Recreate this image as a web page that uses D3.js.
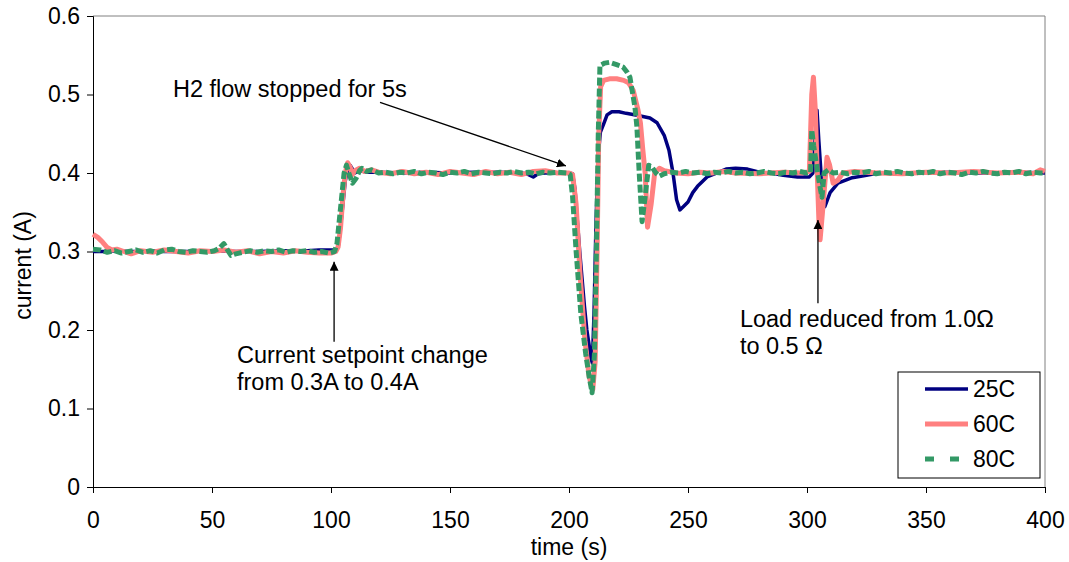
<!DOCTYPE html>
<html>
<head>
<meta charset="utf-8">
<script src="https://cdn.jsdelivr.net/npm/d3@7"></script>
<style>
  body { margin: 0; background: #fff; }
  svg text { font-family: Arial, "Liberation Sans", sans-serif; fill: #000; }
</style>
</head>
<body>
<div id="chart"></div>
<script>
// data: [time (s), current (A)]
var s25 = [[0,0.300],[5,0.300],[10,0.301],[15,0.300],[20,0.300],[25,0.301],[30,0.300],[40,0.300],[50,0.301],[60,0.300],[70,0.300],[80,0.301],[90,0.301],[95,0.302],[100,0.302],[102,0.302],[103,0.305],[104,0.33],[105,0.36],[106,0.39],[107,0.405],[108,0.41],[110,0.40],[112,0.403],[115,0.401],[120,0.401],[130,0.400],[140,0.401],[150,0.400],[160,0.401],[170,0.401],[180,0.400],[183,0.398],[185,0.395],[187,0.399],[190,0.400],[195,0.400],[200,0.400],[201.5,0.399],[202.5,0.38],[203.5,0.34],[204.5,0.30],[205.5,0.265],[206.5,0.23],[207.5,0.20],[208.5,0.18],[209.2,0.165],[209.8,0.158],[210.5,0.22],[211.3,0.33],[212.2,0.42],[213.2,0.452],[214.5,0.462],[216,0.474],[218,0.478],[221,0.478],[224,0.476],[228,0.474],[231,0.472],[234,0.470],[237,0.464],[240,0.448],[242,0.429],[243.7,0.40],[245.2,0.366],[246.6,0.353],[248,0.357],[250,0.363],[252,0.375],[254,0.383],[258,0.395],[263,0.401],[266,0.405],[270,0.406],[275,0.405],[280,0.401],[285,0.400],[290,0.397],[296,0.395],[301,0.395],[302.5,0.40],[303.5,0.45],[304.2,0.48],[305,0.44],[306,0.395],[307.5,0.357],[309.7,0.375],[313,0.387],[319,0.394],[325,0.397],[330,0.400],[340,0.400],[350,0.400],[360,0.401],[370,0.400],[380,0.400],[390,0.401],[400,0.400]];

var s60 = [[0,0.322],[2,0.318],[4,0.312],[6,0.305],[8,0.302],[10,0.303],[13,0.300],[16,0.297],[20,0.301],[25,0.299],[30,0.302],[35,0.300],[40,0.298],[45,0.301],[50,0.300],[55,0.302],[60,0.299],[65,0.301],[70,0.297],[75,0.300],[80,0.298],[85,0.301],[90,0.299],[95,0.298],[100,0.298],[102,0.300],[103,0.306],[104,0.33],[105,0.37],[106,0.40],[107,0.413],[108,0.408],[109,0.398],[110,0.403],[112,0.406],[114,0.402],[117,0.404],[120,0.401],[125,0.399],[130,0.402],[135,0.399],[140,0.401],[145,0.398],[150,0.402],[155,0.400],[160,0.398],[165,0.402],[170,0.399],[175,0.401],[180,0.398],[185,0.402],[190,0.403],[195,0.400],[200,0.400],[201.5,0.398],[203,0.36],[204.6,0.273],[206.7,0.187],[208.5,0.14],[210,0.124],[211,0.16],[211.8,0.30],[212.5,0.45],[213.3,0.51],[214.5,0.518],[217,0.520],[220,0.520],[223,0.518],[225,0.515],[227,0.505],[229,0.48],[230,0.464],[231,0.43],[232,0.40],[233,0.331],[234.5,0.36],[236,0.40],[238,0.406],[240,0.403],[245,0.400],[250,0.399],[255,0.401],[260,0.400],[265,0.402],[270,0.400],[280,0.399],[290,0.401],[298,0.400],[301,0.402],[302,0.50],[302.7,0.522],[303.5,0.48],[304.3,0.40],[305,0.34],[305.5,0.315],[306.5,0.35],[308.4,0.42],[309.5,0.41],[311,0.387],[313,0.391],[315,0.400],[320,0.402],[330,0.400],[340,0.399],[350,0.401],[360,0.400],[370,0.402],[380,0.400],[390,0.401],[395,0.399],[398,0.404],[400,0.402]];

var s80 = [[0,0.303],[3,0.302],[6,0.299],[9,0.301],[12,0.298],[15,0.300],[18,0.302],[21,0.299],[24,0.301],[27,0.298],[30,0.302],[33,0.303],[36,0.300],[39,0.299],[42,0.301],[45,0.300],[48,0.299],[51,0.301],[53,0.304],[55,0.310],[56.5,0.302],[58,0.295],[60,0.297],[63,0.299],[66,0.301],[69,0.299],[72,0.301],[75,0.300],[78,0.302],[81,0.299],[84,0.301],[87,0.300],[90,0.301],[93,0.299],[96,0.300],[99,0.298],[101.5,0.300],[102.5,0.31],[103.5,0.34],[104.5,0.37],[105.5,0.40],[106.5,0.41],[107.5,0.40],[109,0.387],[110.5,0.393],[112,0.403],[113,0.406],[115,0.402],[117,0.404],[120,0.400],[123,0.401],[126,0.399],[129,0.401],[132,0.400],[135,0.402],[138,0.399],[141,0.401],[144,0.400],[147,0.398],[150,0.401],[153,0.400],[156,0.402],[159,0.399],[162,0.401],[165,0.400],[168,0.399],[171,0.401],[174,0.400],[177,0.402],[180,0.400],[183,0.401],[186,0.399],[189,0.401],[192,0.400],[195,0.401],[199,0.400],[200.5,0.398],[201.5,0.37],[203,0.30],[205,0.22],[207,0.17],[208.5,0.14],[209.7,0.12],[210.7,0.17],[211.5,0.30],[212.3,0.45],[213,0.537],[215,0.540],[217,0.541],[220,0.538],[222.7,0.535],[224.5,0.528],[225.6,0.522],[226.8,0.50],[227.7,0.484],[228.5,0.46],[229.5,0.40],[230.7,0.338],[232,0.37],[233.5,0.41],[235,0.407],[236.5,0.400],[238,0.396],[240,0.399],[243,0.401],[246,0.400],[249,0.402],[252,0.400],[255,0.401],[258,0.399],[261,0.401],[264,0.400],[267,0.402],[270,0.400],[273,0.401],[276,0.399],[279,0.400],[282,0.402],[285,0.400],[288,0.399],[291,0.401],[294,0.400],[297,0.402],[300,0.400],[301.5,0.401],[302,0.455],[302.8,0.435],[304,0.41],[305.3,0.385],[306.3,0.369],[307.2,0.40],[309,0.404],[311,0.400],[314,0.401],[317,0.399],[320,0.401],[323,0.400],[326,0.402],[329,0.399],[332,0.401],[335,0.400],[338,0.402],[341,0.400],[344,0.399],[347,0.401],[350,0.400],[353,0.402],[356,0.399],[359,0.401],[362,0.400],[365,0.398],[368,0.401],[371,0.400],[374,0.402],[377,0.400],[380,0.399],[383,0.401],[386,0.400],[389,0.402],[392,0.399],[395,0.401],[398,0.400],[400,0.400]];

var seriesNames = ["25C", "60C", "80C"];
var xTicks = [0, 50, 100, 150, 200, 250, 300, 350, 400];
var yTicks = [0, 0.1, 0.2, 0.3, 0.4, 0.5, 0.6];

// annotations: text lines at (t, v), arrow from (t1, v1) to (t2, v2)
var notes = [
  {lines: ["H2 flow stopped for 5s"], t: 33.6, v: 0.497, from: [120.6, 0.490], to: [198.7, 0.409]},
  {lines: ["Current setpoint change", "from 0.3A to 0.4A"], t: 60.5, v: 0.158, from: [101.3, 0.185], to: [101.3, 0.287]},
  {lines: ["Load reduced from 1.0\u03A9", "to 0.5 \u03A9"], t: 271.8, v: 0.204, from: [304.6, 0.234], to: [304.6, 0.340]}
];

var margin = {top: 16, right: 24, bottom: 75, left: 93},
    W = 1069, H = 562,
    width = W - margin.left - margin.right,
    height = H - margin.top - margin.bottom;

var svg = d3.select("#chart").append("svg")
    .attr("width", W)
    .attr("height", H)
  .append("g")
    .attr("transform", "translate(" + margin.left + "," + margin.top + ")");

var x = d3.scaleLinear().domain([0, 400]).range([0, width]);
var y = d3.scaleLinear().domain([0, 0.6]).range([height, 0]);

var styles = [
  {color: "#000080", w: 3.5, dash: null, legendDash: null},
  {color: "#FF8080", w: 5, dash: null, legendDash: null},
  {color: "#339966", w: 5, dash: "8,3", legendDash: "9,16"}
];

// frame (top and right edges grey)
svg.append("path")
  .attr("d", "M0,0H" + width + "V" + height)
  .attr("fill", "none")
  .attr("stroke", "#808080")
  .attr("stroke-width", 1);

// axes
var xAxis = svg.append("g")
  .attr("transform", "translate(0," + height + ")")
  .call(d3.axisBottom(x).tickValues(xTicks).tickSize(6).tickPadding(19).tickFormat(d3.format("d")));
var yAxis = svg.append("g")
  .call(d3.axisLeft(y).tickValues(yTicks).tickSize(6).tickPadding(7)
    .tickFormat(function(d) { return d === 0 ? "0" : d.toFixed(1); }));

[xAxis, yAxis].forEach(function(a) {
  a.select(".domain").attr("stroke", "#000");
  a.selectAll(".tick line").attr("stroke", "#000");
  a.selectAll("text").style("font-size", "23px").attr("fill", "#000");
});

svg.append("text")
  .attr("x", width / 2)
  .attr("y", height + 68)
  .style("text-anchor", "middle")
  .style("font-size", "23px")
  .text("time (s)");

svg.append("text")
  .attr("transform", "rotate(-90)")
  .attr("x", -height / 2 - 14)
  .attr("y", -margin.left + 31)
  .style("text-anchor", "middle")
  .style("font-size", "23px")
  .text("current (A)");

// lines
var line = d3.line()
  .x(function(d) { return x(d[0]); })
  .y(function(d) { return y(d[1]); });

[s25, s60, s80].forEach(function(s, i) {
  svg.append("path")
    .datum(s)
    .attr("d", line)
    .attr("fill", "none")
    .attr("stroke", styles[i].color)
    .attr("stroke-width", styles[i].w)
    .attr("stroke-linejoin", "round")
    .attr("stroke-dasharray", styles[i].dash);
});

// arrows
svg.append("defs").append("marker")
  .attr("id", "arrow")
  .attr("viewBox", "0 0 10 10")
  .attr("refX", 10).attr("refY", 5)
  .attr("markerWidth", 9).attr("markerHeight", 9)
  .attr("markerUnits", "userSpaceOnUse")
  .attr("orient", "auto")
  .append("path")
    .attr("d", "M0,0L10,5L0,10Z")
    .attr("fill", "#000");

notes.forEach(function(n) {
  svg.append("line")
    .attr("x1", x(n.from[0])).attr("y1", y(n.from[1]))
    .attr("x2", x(n.to[0])).attr("y2", y(n.to[1]))
    .attr("stroke", "#000")
    .attr("stroke-width", 1.3)
    .attr("marker-end", "url(#arrow)");
  var t = svg.append("text")
    .attr("x", x(n.t))
    .attr("y", y(n.v))
    .style("font-size", "23.5px");
  n.lines.forEach(function(l, k) {
    t.append("tspan")
      .attr("x", x(n.t))
      .attr("dy", k === 0 ? 0 : 27)
      .text(l);
  });
});

// legend
var lg = svg.append("g")
  .attr("transform", "translate(" + (width - 147) + "," + (height - 115) + ")");
lg.append("rect")
  .attr("width", 142).attr("height", 106)
  .attr("fill", "#fff")
  .attr("stroke", "#000")
  .attr("stroke-width", 1);

seriesNames.forEach(function(name, i) {
  var yy = 17 + i * 35;
  lg.append("line")
    .attr("x1", 27).attr("x2", 70)
    .attr("y1", yy).attr("y2", yy)
    .attr("stroke", styles[i].color)
    .attr("stroke-width", styles[i].w)
    .attr("stroke-dasharray", styles[i].legendDash);
  lg.append("text")
    .attr("x", 75)
    .attr("y", yy + 8)
    .style("font-size", "23px")
    .text(name);
});
</script>
</body>
</html>
